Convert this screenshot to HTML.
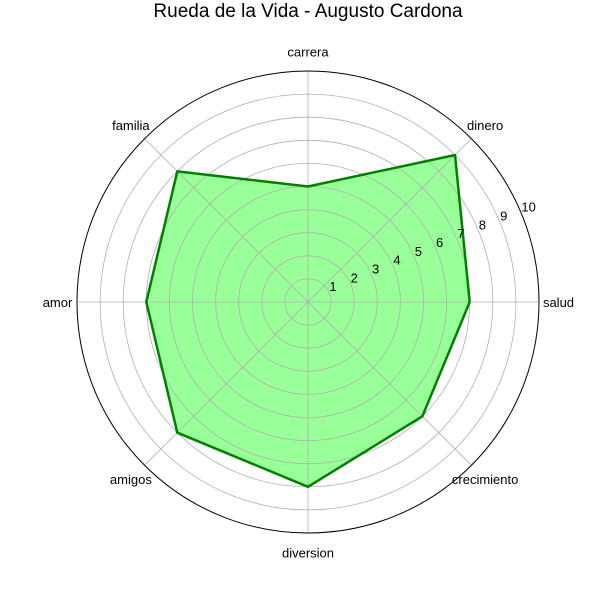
<!DOCTYPE html>
<html><head><meta charset="utf-8"><style>
body{margin:0;background:#fff}
svg text{font-family:"Liberation Sans","DejaVu Sans",sans-serif}
</style></head><body>
<svg id="chart" width="600" height="600">
<text x="308" y="17" text-anchor="middle" font-size="19">Rueda de la Vida - Augusto Cardona</text>
<g id="grid"></g><g id="series"></g><g id="labels"></g>
</svg>
<script>
const categories=["salud","dinero","carrera","familia","amor","amigos","diversion","crecimiento"];
const values=[7,9,5,8,7,8,8,7];
const rTicks=[1,2,3,4,5,6,7,8,9,10];
const cx=308,cy=302,R=231,rMax=10;
const NS="http://www.w3.org/2000/svg";
function rs(v){return v/rMax*R;}
function ang(i){return i*2*Math.PI/categories.length;}
function pt(i,v){const a=ang(i);return [cx+rs(v)*Math.cos(a),cy-rs(v)*Math.sin(a)];}
function mk(tag,attrs,parent){const e=document.createElementNS(NS,tag);for(const k in attrs)e.setAttribute(k,attrs[k]);parent.appendChild(e);return e;}
const grid=document.getElementById('grid'),ser=document.getElementById('series'),lab=document.getElementById('labels');
const pts=values.map((v,i)=>pt(i,v).join(',')).join(' ');
const fill=mk('polygon',{points:pts,fill:'#99ff99',stroke:'none'},ser);


rTicks.forEach(t=>{
  if(t<rMax){const c=mk('circle',{cx:cx,cy:cy,r:rs(t),fill:'none',stroke:'#b0b0b0','stroke-width':0.8},ser);
  
  }
});
categories.forEach((c,i)=>{
  const p=pt(i,rMax);
  const l=mk('line',{x1:cx,y1:cy,x2:p[0],y2:p[1],stroke:'#b0b0b0','stroke-width':0.8},ser);
  
  
  const a=ang(i);
  const tx=cx+(R+19.5)*Math.cos(a),ty=cy-(R+19.5)*Math.sin(a);
  const t=mk('text',{x:tx,y:ty+5,'text-anchor':'middle','font-size':13},lab);
  t.textContent=c;
  
  
});
const outer=mk('circle',{cx:cx,cy:cy,r:R,fill:'none',stroke:'#000','stroke-width':1},ser);


const line=mk('polygon',{points:pts,fill:'none',stroke:'#008000','stroke-width':2.5,'stroke-linejoin':'round'},ser);


const la=22.5*Math.PI/180;
rTicks.forEach(t=>{
  const x=cx+rs(t)*Math.cos(la),y=cy-rs(t)*Math.sin(la)-2;
  const e=mk('text',{x:x,y:y,'text-anchor':'start','font-size':13},lab);
  e.textContent=t;
  
  
});
</script>
</body></html>
